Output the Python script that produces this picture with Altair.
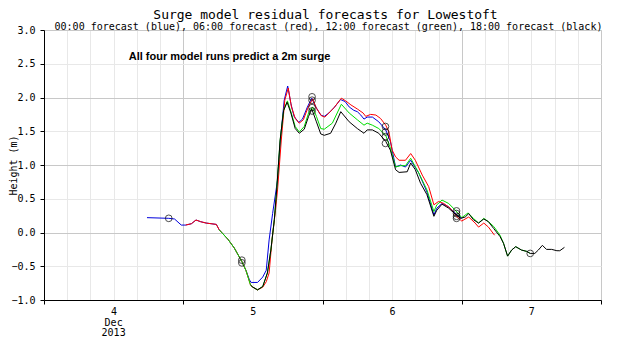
import altair as alt
import pandas as pd

# ---- data (hours after 00:00 4 Dec 2013, residual in metres) ----
blue_t = [17.75, 21.5, 22.5, 23.66, 24.4, 25.4, 26.2, 27.0, 27.95, 29.7, 30.2, 31.7, 32.8, 34.1, 34.8,
          35.4, 35.7, 36.8, 37.7, 38.3, 38.8, 39.4, 40.0, 40.25, 40.8, 41.4, 42.0, 42.55, 43.1, 43.9,
          44.55, 45.4, 46.15, 46.85, 47.7, 48.3, 49.1, 50.0, 51.1, 51.9, 52.6, 53.4, 54.0, 54.6, 55.15,
          55.7, 56.6, 57.7, 58.9, 59.7, 60.6, 61.45, 62.3, 63.2, 64.6, 66.0, 67.2, 67.7, 68.6, 69.75,
          70.9, 71.6, 72.0]
blue_v = [0.22, 0.21, 0.20, 0.11, 0.11, 0.13, 0.185, 0.16, 0.14, 0.12, 0.04, -0.10, -0.23, -0.43, -0.56,
          -0.70, -0.74, -0.74, -0.66, -0.56, -0.11, 0.28, 0.63, 0.78, 1.42, 1.96, 2.17, 1.91, 1.72, 1.63,
          1.68, 1.86, 1.99, 1.86, 1.74, 1.72, 1.77, 1.85, 1.97, 1.94, 1.86, 1.81, 1.79, 1.74, 1.68,
          1.71, 1.71, 1.64, 1.52, 1.35, 0.97, 1.00, 0.97, 1.07, 0.88, 0.60, 0.26, 0.36, 0.43, 0.38,
          0.28, 0.23, 0.21]

red_t = [24.4, 25.4, 26.2, 27.0, 27.95, 29.7, 30.2, 31.7, 32.8, 34.1, 34.8, 35.6, 36.0, 36.8, 37.7,
         38.3, 38.8, 39.3, 39.9, 40.25, 40.9, 41.5, 42.1, 42.65, 43.3, 44.0, 44.7, 45.5, 46.3, 46.95,
         47.8, 48.4, 49.1, 50.1, 51.25, 52.0, 52.9, 54.0, 55.0, 55.45, 56.3, 57.2, 58.0, 58.9, 59.45,
         60.0, 60.6, 61.2, 62.3, 63.2, 64.0, 65.2, 66.3, 67.2, 68.0, 68.9, 70.0, 71.2, 72.0, 73.2,
         74.3, 74.9, 75.8, 76.6, 77.65]
red_v = [0.11, 0.13, 0.185, 0.16, 0.14, 0.12, 0.04, -0.10, -0.23, -0.43, -0.56, -0.78, -0.81, -0.85, -0.81,
         -0.73, -0.60, -0.11, 0.33, 0.63, 1.37, 1.96, 2.14, 1.86, 1.69, 1.62, 1.67, 1.85, 1.98, 1.84,
         1.73, 1.71, 1.77, 1.86, 1.99, 1.95, 1.89, 1.83, 1.77, 1.72, 1.75, 1.74, 1.69, 1.59, 1.49,
         1.22, 1.12, 1.07, 1.07, 1.17, 1.07, 0.85, 0.68, 0.41, 0.46, 0.43, 0.36, 0.23, 0.17, 0.23,
         0.14, 0.08, 0.14, 0.08, -0.04]

green_t = [30.2, 31.7, 32.8, 34.1, 34.8, 35.6, 36.0, 36.8, 37.7, 38.5, 39.1, 39.7, 40.1, 40.7, 41.3,
           41.95, 42.55, 43.3, 44.0, 44.85, 45.6, 46.3, 46.95, 47.7, 48.3, 49.7, 51.25, 52.6, 54.0, 55.15,
           55.7, 56.6, 57.7, 58.9, 59.7, 60.6, 61.45, 62.3, 63.2, 64.6, 66.0, 67.2, 67.7, 68.6, 69.75,
           70.9, 72.0, 73.1, 74.0, 74.9, 75.8, 76.6, 77.5, 78.6, 79.2, 79.9, 80.6, 81.3, 82.3, 83.2, 83.8]
green_v = [0.04, -0.10, -0.23, -0.43, -0.56, -0.78, -0.81, -0.85, -0.80, -0.60, -0.26, 0.19, 0.63, 1.37, 1.81,
           1.95, 1.79, 1.57, 1.49, 1.57, 1.77, 1.86, 1.72, 1.54, 1.53, 1.62, 1.90, 1.77, 1.67, 1.59,
           1.62, 1.59, 1.54, 1.44, 1.25, 0.97, 0.99, 0.99, 1.10, 0.88, 0.63, 0.31, 0.41, 0.48, 0.43,
           0.33, 0.22, 0.29, 0.21, 0.14, 0.21, 0.16, 0.09, -0.04, -0.16, -0.35, -0.26, -0.21, -0.26, -0.28, -0.31]

black_t = [35.6, 36.0, 36.8, 37.7, 38.5, 39.1, 39.7, 40.1, 40.7, 41.3, 41.9, 42.55, 43.3, 44.0, 44.85,
           45.6, 46.15, 46.95, 47.7, 48.3, 49.4, 50.3, 51.15, 52.6, 54.0, 55.15, 55.7, 56.6, 57.7, 58.9,
           59.7, 60.6, 61.2, 62.6, 63.2, 64.0, 64.9, 66.0, 67.2, 67.7, 68.6, 69.75, 70.9, 71.8, 72.6,
           73.2, 74.0, 74.9, 75.8, 76.6, 77.5, 78.6, 79.2, 79.9, 80.6, 81.3, 82.3, 83.2, 83.8, 84.6,
           85.2, 85.9, 86.6, 87.5, 88.4, 88.9, 89.7]
black_v = [-0.78, -0.81, -0.85, -0.80, -0.60, -0.26, 0.19, 0.63, 1.37, 1.81, 1.93, 1.77, 1.54, 1.47, 1.53,
           1.72, 1.83, 1.64, 1.46, 1.44, 1.47, 1.62, 1.79, 1.64, 1.54, 1.47, 1.52, 1.52, 1.47, 1.35,
           1.22, 0.93, 0.89, 0.90, 1.03, 0.93, 0.73, 0.56, 0.24, 0.33, 0.42, 0.36, 0.27, 0.21, 0.23,
           0.28, 0.19, 0.14, 0.20, 0.16, 0.06, -0.06, -0.16, -0.35, -0.26, -0.21, -0.26, -0.28, -0.31, -0.31,
           -0.26, -0.19, -0.25, -0.25, -0.27, -0.27, -0.22]

# high-water markers (circles)
hw_t = [21.5, 34.1, 34.1, 46.2, 46.2, 46.2, 46.2, 58.85, 58.85, 58.85, 58.85, 71.1, 71.1, 71.1, 71.1, 83.8]
hw_v = [0.21, -0.41, -0.45, 2.01, 1.96, 1.85, 1.80, 1.57, 1.49, 1.42, 1.32, 0.32, 0.28, 0.24, 0.21, -0.31]

series_colors = {"blue": "#0000dd", "red": "#ff0000", "green": "#00dd00", "black": "#000000"}

day_ticks = [12, 36, 60, 84]
day_labels = ["4", "5", "6", "7"]
month_label = "Dec"
year_label = "2013"

title = "Surge model residual forecasts for Lowestoft"
subtitle = "00:00 forecast (blue), 06:00 forecast (red), 12:00 forecast (green), 18:00 forecast (black)"
note = "All four model runs predict a 2m surge"

MONO = "DejaVu Sans Mono"

label_expr = "''"
for tv, lb in reversed(list(zip(day_ticks, day_labels))):
    label_expr = f"datum.value == {tv} ? '{lb}' : ({label_expr})"

x_axis = alt.Axis(
    values=list(range(0, 97, 4)),
    labelExpr=label_expr,
    labelOverlap=False,
    labelFont=MONO, labelFontSize=10, labelColor="black",
    labelBaseline="top", labelPadding=2,
    tickSize=4, tickColor="black",
    tickOpacity={"condition": {"test": "datum.value % 24 == 0", "value": 1}, "value": 0},
    domainColor="black", domainWidth=1,
    grid=True,
    gridColor={"condition": {"test": "datum.value % 24 == 0", "value": "#c8c8c8"}, "value": "#e8e8e8"},
    gridWidth=1,
    title=None,
)
y_axis = alt.Axis(
    values=[-1.0, -0.5, 0.0, 0.5, 1.0, 1.5, 2.0, 2.5, 3.0],
    format=".1f",
    labelOverlap=False,
    labelFont=MONO, labelFontSize=10, labelColor="black", labelPadding=5,
    tickSize=4, tickColor="black",
    domainColor="black", domainWidth=1,
    grid=True,
    gridColor={"condition": {"test": "datum.value % 1 == 0", "value": "#c8c8c8"}, "value": "#e8e8e8"},
    gridWidth=1,
    title="Height (m)", titleFont=MONO, titleFontSize=10, titleFontWeight="normal",
    titleColor="black", titleAngle=270, titleAlign="center", titleBaseline="alphabetic",
    titleX=-28, titleY=135,
)

xs = alt.Scale(domain=[0, 96], nice=False, zero=False)
ys = alt.Scale(domain=[-1, 3], nice=False, zero=False)


def X(field="t:Q"):
    return alt.X(field, scale=xs, axis=x_axis)


def Y(field="v:Q"):
    return alt.Y(field, scale=ys, axis=y_axis)


def line(ts, vs, color):
    df = pd.DataFrame({"t": ts, "v": vs})
    return alt.Chart(df).mark_line(color=color, strokeWidth=1, clip=True).encode(x=X(), y=Y())


layers = [
    line(blue_t, blue_v, series_colors["blue"]),
    line(red_t, red_v, series_colors["red"]),
    line(green_t, green_v, series_colors["green"]),
    line(black_t, black_v, series_colors["black"]),
]

hw = alt.Chart(pd.DataFrame({"t": hw_t, "v": hw_v})).mark_point(
    shape="circle", filled=False, color="black", size=45, strokeWidth=1
).encode(x=X(), y=Y())

txt = alt.Chart(pd.DataFrame({"label": [note], "t": [14.6], "v": [2.6]})).mark_text(
    align="left", baseline="middle", font="Liberation Sans", fontWeight="bold",
    fontSize=11, color="black"
).encode(x=X(), y=Y(), text="label:N")


# month / year lines under the first day label
def under_label(text, ypix):
    return alt.Chart(pd.DataFrame({"label": [text], "t": [day_ticks[0]]})).mark_text(
        align="center", baseline="middle", font=MONO, fontSize=10, color="black"
    ).encode(x=X(), y=alt.value(ypix), text="label:N")


# chart title and subtitle (placed above the plot area)
def head_text(text, size, xpix, ypix):
    return alt.Chart(pd.DataFrame({"label": [text]})).mark_text(
        align="center", baseline="middle", font=MONO, fontSize=size, color="black"
    ).encode(x=alt.value(xpix), y=alt.value(ypix), text="label:N")


chart = alt.layer(
    *layers, hw, txt,
    under_label(month_label, 293), under_label(year_label, 302.5),
    head_text(title, 13, 281.5, -15), head_text(subtitle, 10, 284.5, -3.2),
).properties(
    width=557, height=270,
    autosize=alt.AutoSizeParams(type="none"),
    padding={"left": 36, "top": 22, "right": 10, "bottom": 40},
).configure_view(stroke=None).configure(background="white")

chart.save("out.html", embed_options={"renderer": "svg", "actions": False})
